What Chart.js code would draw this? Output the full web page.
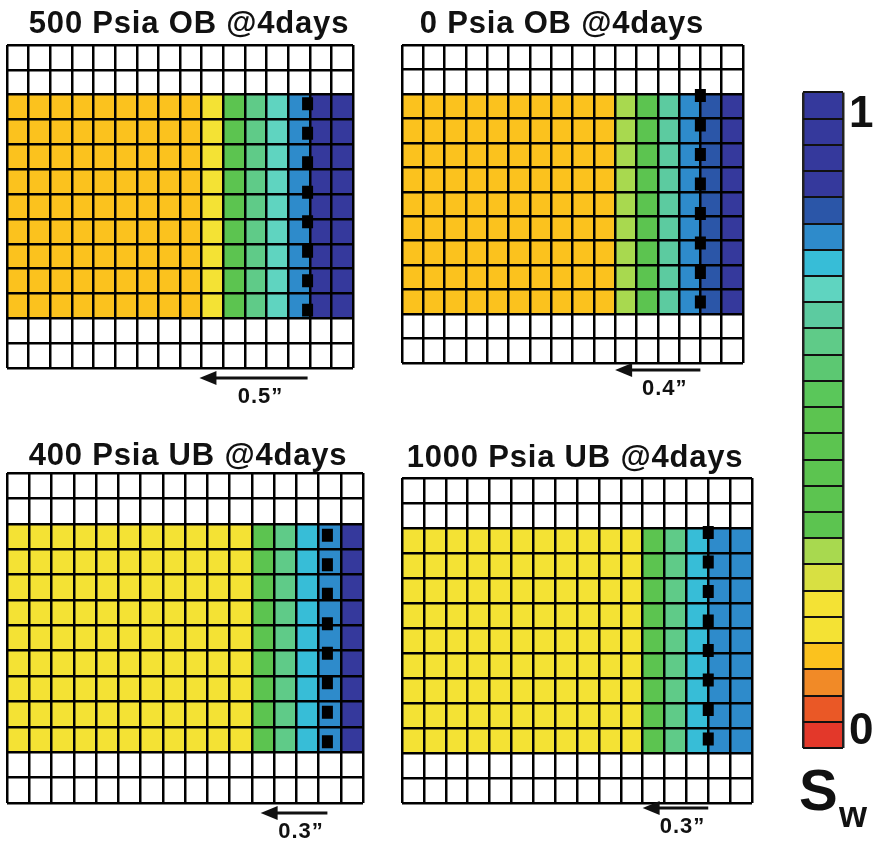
<!DOCTYPE html>
<html><head><meta charset="utf-8">
<script src="https://cdn.jsdelivr.net/npm/chart.js@4.4.0/dist/chart.umd.min.js"></script>
<style>
html,body{margin:0;padding:0;background:#fff;}
#wrap{position:relative;width:882px;height:845px;overflow:hidden;background:#fff;}
canvas{position:absolute;}
</style></head><body>
<div id="wrap"></div>
<script>
// ---------------- DATA ----------------
const columns = ['1','2','3','4','5','6','7','8','9','10','11','12','13','14','15','16'];
// rows from bottom to top: 1 = saturated (coloured) cell, 0 = empty (white) cell
const rowFilled = [0,0,1,1,1,1,1,1,1,1,1,0,0];
const panelTitles = ['500 Psia OB @4days','0 Psia OB @4days','400 Psia UB @4days','1000 Psia UB @4days'];
// water saturation of each column (left -> right)
const swP1 = [0.14,0.14,0.14,0.14,0.14,0.14,0.14,0.14,0.14,0.18,0.42,0.62,0.70,0.78,0.90,0.94];
const swP2 = [0.14,0.14,0.14,0.14,0.14,0.14,0.14,0.14,0.14,0.14,0.30,0.42,0.66,0.78,0.82,0.94];
const swP3 = [0.20,0.20,0.20,0.20,0.20,0.20,0.20,0.20,0.20,0.20,0.20,0.42,0.62,0.74,0.78,0.90];
const swP4 = [0.20,0.20,0.20,0.20,0.20,0.20,0.20,0.20,0.20,0.20,0.20,0.42,0.62,0.74,0.78,0.78];
// front position (column boundary) and vertical extent of dashed front marker (row units)
const frontX = [13.9, 14, 14.4, 14];
const frontTop = [10.9, 11.2, 10.8, 11.08];
const frontBottom = [2.07, 2.23, 2.15, 2.3];
// advance arrows
const advanceInches = [0.5, 0.4, 0.3, 0.3];
const advanceLabels = ['0.5\u201D','0.4\u201D','0.3\u201D','0.3\u201D'];
const cellsPerInch = 10;
// colour bar: bins of Sw from 0 (bottom) to 1 (top)
const swBinColors = ['#e3382a','#ea5826','#f18a27','#fbc21e','#f4e234','#f4e234','#d8e042','#a8d94f',
  '#5cc450','#5cc450','#5cc450','#5cc450','#5cc450','#5ac75a','#5cc872','#5fcb88','#5ccba0','#5fd4c0',
  '#37bdd7','#2e8bcb','#2b56a8','#35399c','#35399c','#35399c','#35399c'];
const swBinWidth = 0.04;
const cbTickValues = [0.025, 0.965];
const cbTickLabels = ['0','1'];
const swSymbol = 'S', swSubscript = 'w';

// ---------------- HELPERS ----------------
const FONT = '"Liberation Sans", Arial, Helvetica, sans-serif';
function colorFor(v){
  let i = Math.floor(v / swBinWidth + 1e-9);
  i = Math.max(0, Math.min(swBinColors.length - 1, i));
  return swBinColors[i];
}
const wrap = document.getElementById('wrap');
function makeCanvas(left, top, w, h){
  const c = document.createElement('canvas');
  c.width = w; c.height = h;
  c.style.left = left + 'px'; c.style.top = top + 'px';
  c.style.width = w + 'px'; c.style.height = h + 'px';
  wrap.appendChild(c);
  return c;
}

const panelDecor = {
  id: 'panelDecor',
  afterDraw(chart, args, o){
    const ctx = chart.ctx, area = chart.chartArea, x2 = chart.scales.x2;
    ctx.save();
    ctx.fillStyle = '#111'; ctx.strokeStyle = '#111';
    // title
    ctx.font = 'bold 31px ' + FONT;
    ctx.textAlign = 'center'; ctx.textBaseline = 'alphabetic';
    if ('letterSpacing' in ctx) ctx.letterSpacing = o.titleSpacing + 'px';
    ctx.fillText(o.title, o.titleX, o.titleY);
    if ('letterSpacing' in ctx) ctx.letterSpacing = '0px';
    // arrow
    const xa = x2.getPixelForValue(o.from);
    const xb = x2.getPixelForValue(o.from - o.len * cellsPerInch);
    const ya = area.bottom + o.arrowDy;
    ctx.lineWidth = 3;
    ctx.beginPath(); ctx.moveTo(xa, ya); ctx.lineTo(xb + 12, ya); ctx.stroke();
    ctx.beginPath(); ctx.moveTo(xb, ya); ctx.lineTo(xb + 17, ya - 7); ctx.lineTo(xb + 17, ya + 7); ctx.closePath(); ctx.fill();
    ctx.font = 'bold 22px ' + FONT;
    if ('letterSpacing' in ctx) ctx.letterSpacing = '1px';
    ctx.textAlign = 'center';
    ctx.fillText(o.label, (xa + xb) / 2 + 7, ya + 25);
    ctx.restore();
  }
};

const panelLayout = [
  {left:0,   top:0,   w:380, h:420, pad:{left:7,  right:27, top:45, bottom:52}, titleX:189, titleY:33, arrowDy:10},
  {left:380, top:0,   w:380, h:420, pad:{left:22, right:17, top:45, bottom:57}, titleX:182, titleY:33, arrowDy:7},
  {left:0,   top:420, w:380, h:425, pad:{left:7,  right:17, top:53, bottom:42}, titleX:188, titleY:45, arrowDy:10},
  {left:380, top:420, w:380, h:425, pad:{left:22, right:8,  top:58, bottom:42}, titleX:195, titleY:47, arrowDy:5}
];
const panelSw = [swP1, swP2, swP3, swP4];

panelLayout.forEach((L, p) => {
  const sw = panelSw[p];
  const cv = makeCanvas(L.left, L.top, L.w, L.h);
  const cellSets = rowFilled.map((f, r) => ({
    type: 'bar', label: 'row ' + r,
    data: columns.map(() => 1),
    backgroundColor: sw.map(v => f ? colorFor(v) : '#ffffff'),
    borderWidth: 0, barPercentage: 1, categoryPercentage: 1, grouped: false, stack: 'cells', order: 1
  }));
  const front = {
    type: 'line', label: 'front', xAxisID: 'x2', yAxisID: 'y',
    data: [{x: frontX[p], y: frontTop[p]}, {x: frontX[p], y: frontBottom[p]}],
    borderColor: '#000', borderWidth: 11, borderDash: [13, 16.5], borderCapStyle: 'butt',
    pointRadius: 0, fill: false, tension: 0, order: 0
  };
  new Chart(cv, {
    type: 'bar',
    data: { labels: columns, datasets: [...cellSets, front] },
    options: {
      responsive: false, animation: false, devicePixelRatio: 1,
      layout: { padding: L.pad },
      plugins: {
        legend: {display: false}, tooltip: {enabled: false}, title: {display: false},
        panelDecor: { title: panelTitles[p], titleX: L.titleX, titleY: L.titleY, titleSpacing: 0.8,
          from: frontX[p], len: advanceInches[p], label: advanceLabels[p], arrowDy: L.arrowDy }
      },
      scales: {
        x: { type: 'category', stacked: true, offset: true,
             grid: {display: true, offset: true, color: '#000', lineWidth: 2.5, z: 1, drawTicks: false},
             border: {display: false}, ticks: {display: false},
             afterFit: s => { s.height = 0; } },
        x2: { type: 'linear', display: false, offset: false, grid: {offset: false}, min: 0, max: columns.length },
        y: { type: 'linear', stacked: true, min: 0, max: rowFilled.length,
             ticks: {display: false, stepSize: 1},
             grid: {color: '#000', lineWidth: 2.5, z: 1, drawTicks: false},
             border: {display: false},
             afterFit: s => { s.width = 0; } }
      }
    },
    plugins: [panelDecor]
  });
});

// ---------------- COLOUR BAR ----------------
const cbDecor = {
  id: 'cbDecor',
  afterDraw(chart, args, o){
    const ctx = chart.ctx, area = chart.chartArea;
    ctx.save();
    ctx.fillStyle = '#111';
    ctx.textAlign = 'left'; ctx.textBaseline = 'alphabetic';
    ctx.font = 'bold 58px ' + FONT;
    ctx.fillText(swSymbol, area.left - 4, area.bottom + 62);
    ctx.font = 'bold 36px ' + FONT;
    ctx.fillText(swSubscript, area.left + 36, area.bottom + 79);
    ctx.restore();
  }
};
const cbCanvas = makeCanvas(780, 60, 102, 785);
new Chart(cbCanvas, {
  type: 'bar',
  data: {
    labels: ['Sw'],
    datasets: swBinColors.map((c, i) => ({
      label: 'bin ' + i, data: [swBinWidth], backgroundColor: c,
      borderWidth: 0, barPercentage: 1, categoryPercentage: 1, stack: 'cb'
    }))
  },
  options: {
    responsive: false, animation: false, devicePixelRatio: 1,
    layout: { padding: {left: 23, right: 0, top: 22, bottom: 97} },
    plugins: { legend: {display: false}, tooltip: {enabled: false} },
    scales: {
      x: { type: 'category', stacked: true, offset: true,
           grid: {display: true, offset: true, color: '#222', lineWidth: 2.5, z: 1, drawTicks: false},
           border: {display: false}, ticks: {display: false},
           afterFit: s => { s.height = 0; } },
      y: { type: 'linear', stacked: true, min: 0, max: 1,
           afterBuildTicks: s => { s.ticks = swBinColors.map((c, i) => ({value: i * swBinWidth})).concat([{value: 1}]); },
           ticks: {display: false},
           grid: {color: '#111', lineWidth: 2, z: 1, drawTicks: false},
           border: {display: false},
           afterFit: s => { s.width = 0; } },
      y2: { type: 'linear', position: 'right', min: 0, max: 1,
            afterBuildTicks: s => { s.ticks = cbTickValues.map(v => ({value: v})); },
            ticks: { callback: (v, i) => cbTickLabels[i], color: '#111', padding: 6, autoSkip: false,
                     font: {family: FONT, size: 44, weight: 'bold'} },
            grid: {display: false, drawTicks: false}, border: {display: false},
            afterFit: s => { s.width = 39; } }
    }
  },
  plugins: [cbDecor]
});
</script>
</body></html>
